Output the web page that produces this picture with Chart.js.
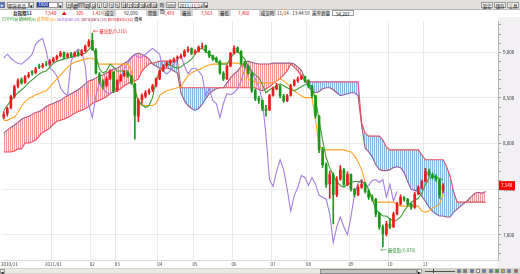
<!DOCTYPE html>
<html>
<head>
<meta charset="utf-8">
<script src="https://cdn.jsdelivr.net/npm/chart.js@4/dist/chart.umd.min.js"></script>
<style>
html, body { margin: 0; padding: 0; width: 520px; height: 274px; overflow: hidden; background: #fff;
  font-family: "Noto Sans CJK TC", "Noto Sans", sans-serif; }
.a { position: absolute; white-space: nowrap; line-height: 7px; font-size: 4.5px; color: #222; }
.box { position: absolute; height: 6px; line-height: 6px; font-size: 4.5px; text-align: center; box-sizing: border-box; }
.btn { background: #f4f3f0; border: 0.5px solid #9a9a9a; }
.lab { background: #d6d6d6; color: #222; }
.red { color: #e00; }
</style>
</head>
<body>
<!-- toolbar row -->
<div style="position:absolute;left:0;top:0;width:520px;height:9px;background:#e2e0dc;border-bottom:0.5px solid #b8b8b8"></div>
<div class="box" style="left:0;top:1.5px;width:5px;background:#5d77ad;color:#fff">▸</div>
<div class="box btn" style="left:7px;top:1.5px;width:22px;background:#fff;text-align:left">期貨商品</div>
<div class="box btn" style="left:29px;top:1.5px;width:5px">▾</div>
<div class="box btn" style="left:36px;top:1.5px;width:22px;background:#fff"></div>
<div class="box" style="left:37px;top:2px;width:12px;height:5px;line-height:5px;background:#2a46a3;color:#fff">TX00</div>
<div class="box btn" style="left:58px;top:1.5px;width:5px">▾</div>
<div id="periods"></div>
<div class="box lab" style="left:158px;top:1.5px;width:8px">時間</div>
<div class="box btn" style="left:166px;top:1.5px;width:10px;background:#fff">999</div>
<div class="box btn" style="left:178px;top:1.5px;width:26px;background:#fff">2011/11/14</div>
<div class="box btn" style="left:204px;top:1.5px;width:4px">▾</div>
<div class="box btn" style="left:481px;top:1.5px;width:12px">設定</div>
<div class="box btn" style="left:494px;top:1.5px;width:12px">儲存</div>
<div class="box btn" style="left:507px;top:1.5px;width:12px">工具</div>

<!-- quote row -->
<div class="a" style="left:13px;top:9.5px;font-weight:bold">台指期11</div>
<div class="a red" style="left:45px;top:9.5px">7,540</div>
<div class="a red" style="left:62px;top:9.5px">▲</div>
<div class="a red" style="left:76px;top:9.5px">105</div>
<div class="a red" style="left:92px;top:9.5px">1.41%</div>
<div class="box lab" style="left:103px;top:10px;width:13px">成交量</div>
<div class="a" style="left:124px;top:9.5px">92,090</div>
<div class="box lab" style="left:146px;top:10px;width:13px">開盤價</div>
<div class="a red" style="left:163px;top:9.5px">7,493</div>
<div class="box lab" style="left:180px;top:10px;width:13px">最高價</div>
<div class="a red" style="left:201px;top:9.5px">7,563</div>
<div class="box lab" style="left:218px;top:10px;width:13px">最低價</div>
<div class="a red" style="left:238px;top:9.5px">7,460</div>
<div class="box lab" style="left:259px;top:10px;width:17px">成交時間</div>
<div class="a" style="left:277px;top:9.5px">11/14 - 13:44:59</div>
<div class="box lab" style="left:312px;top:10px;width:18px">未平倉量</div>
<div class="box btn" style="left:332px;top:10px;width:22px;background:#fff">54,207</div>

<canvas id="c" width="520" height="251" style="position:absolute;left:0;top:17px"></canvas>

<!-- legend row -->
<div class="a" style="left:2px;top:16px;font-size:4px;z-index:2">
  <span style="color:#2f9a2f">日平均量 轉換線(9)</span>
  <span style="color:#ff9a10">基準線(26)</span>
  <span style="color:#9a70e0">lackspan(26)</span>
  <span style="color:#9c3a5a">penspan1(26)</span>
  <span style="color:#e02030">penspan2(52)</span>
  <span style="color:#222">價格</span>
</div>
<div class="a" style="left:1px;top:261px;font-size:4.5px;color:#333">2010/11</div>

<!-- bottom scroll bar -->
<div style="position:absolute;left:0;top:268px;width:520px;height:6px;background:#d6d3cd"></div>
<div class="box btn" style="left:0;top:268.5px;width:5px;height:5px;line-height:5px">◂</div>
<div style="position:absolute;left:5px;top:269px;width:412px;height:4px;background:#ebe9e6"></div>
<div style="position:absolute;left:320px;top:268.5px;width:97px;height:5px;background:#c4c2be;border:0.5px solid #8d8d8d;box-sizing:border-box"></div>
<div class="box btn" style="left:417px;top:268.5px;width:5px;height:5px;line-height:5px">▸</div>
<div style="position:absolute;left:425px;top:271px;width:30px;height:0.5px;background:#555"></div>
<div style="position:absolute;left:433px;top:269px;width:1px;height:4px;background:#444"></div>
<div id="icons"></div>

<script>
// slots: each slot is one step on the category axis (about two sessions)
const slotCount = 140;
const monthNames = ['2011/01', '02', '03', '04', '05', '06', '07', '08', '09', '10', '11'];
const monthSlots = [14, 25, 32, 44, 54, 65, 76, 86, 98, 109, 119];
const yMajorTicks = [7000, 7500, 8000, 8500, 9000];
const yMinorTicks = [6800, 6900, 7000, 7100, 7200, 7300, 7400, 7500, 7600, 7700, 7800, 7900, 8000,
  8100, 8200, 8300, 8400, 8500, 8600, 8700, 8800, 8900, 9000, 9100, 9200, 9300];

const opens = [8290,8330,8390,8520,8630,8700,8670,8735,8790,8780,
  8850,8840,8875,8870,8900,8930,8960,8995,8950,8985,
  8960,9000,8970,9015,9070,9130,9020,8760,8680,8640,
  8710,8780,8590,8690,8745,8780,8740,8650,8300,8480,
  8520,8560,8590,8640,8715,8800,8860,8885,8910,8935,
  8950,8960,9020,9040,8990,9010,9060,9070,9010,8960,
  8930,8900,8770,8710,8850,8990,9050,9010,8880,8850,
  8770,8580,8495,8470,8380,8370,8530,8600,8630,8520,
  8470,8530,8640,8690,8710,8730,8690,8630,8520,8300,
  7930,7770,7560,7660,7440,7610,7710,7550,7660,7500,
  7440,7520,7560,7480,7410,7390,7230,7090,7010,7120,
  7090,7230,7340,7410,7390,7340,7300,7450,7520,7590,
  7690,7660,7630,7600,7493];
const highs = [8350,8400,8530,8640,8710,8720,8745,8780,8800,8835,
  8870,8880,8900,8920,8945,8970,9010,9005,8995,9000,
  9005,9015,9030,9080,9140,9210,9040,8780,8700,8730,
  8810,8790,8700,8760,8795,8790,8750,8660,8490,8545,
  8580,8600,8650,8720,8810,8865,8900,8920,8940,8960,
  8980,9030,9060,9050,9030,9070,9100,9080,9020,8970,
  8950,8910,8790,8860,9000,9070,9060,9020,8900,8860,
  8780,8600,8520,8480,8420,8540,8620,8660,8640,8540,
  8540,8650,8700,8730,8750,8740,8700,8640,8530,8310,
  7960,7790,7700,7680,7640,7760,7730,7690,7670,7510,
  7550,7600,7570,7490,7440,7400,7250,7110,7150,7180,
  7250,7360,7440,7420,7400,7350,7470,7540,7600,7730,
  7720,7680,7660,7610,7563];
const lows = [8270,8300,8380,8500,8610,8650,8660,8720,8750,8765,
  8820,8830,8850,8860,8890,8915,8950,8930,8940,8945,
  8950,8955,8960,9005,9060,9020,8760,8660,8600,8620,
  8700,8560,8570,8680,8730,8725,8650,8050,8240,8440,
  8500,8540,8570,8620,8700,8790,8840,8860,8890,8910,
  8930,8950,9000,8975,8980,9000,9040,8995,8940,8910,
  8890,8760,8690,8700,8840,8980,8995,8860,8830,8760,
  8560,8470,8440,8360,8300,8360,8520,8590,8500,8450,
  8460,8520,8630,8670,8700,8670,8610,8500,8280,7900,
  7740,7520,7400,7120,7420,7600,7530,7540,7480,7420,
  7430,7510,7460,7390,7370,7200,7060,6870,6990,7070,
  7080,7220,7330,7370,7320,7280,7290,7440,7500,7580,
  7640,7610,7590,7400,7460];
const closes = [8320,8385,8514,8622,8687,8665,8730,8752,8773,8817,
  8838,8860,8871,8903,8925,8957,8989,8946,8979,8957,
  8989,8968,9011,9065,9119,9033,8773,8687,8633,8709,
  8795,8579,8687,8741,8773,8741,8665,8309,8471,8525,
  8557,8579,8633,8709,8795,8849,8881,8903,8925,8946,
  8957,9011,9033,8989,9011,9054,9065,9011,8957,8925,
  8903,8773,8709,8849,8989,9043,9011,8881,8849,8773,
  8579,8493,8471,8385,8363,8525,8601,8633,8525,8471,
  8525,8633,8687,8709,8730,8687,8633,8525,8309,7931,
  7769,7553,7661,7445,7607,7715,7553,7661,7499,7445,
  7521,7553,7477,7413,7391,7229,7089,7013,7121,7089,
  7229,7337,7413,7391,7337,7305,7445,7521,7585,7693,
  7661,7628,7607,7435,7540];

const tenkan = [8363,8417,8471,8514,8557,8590,8622,8665,8698,8730,
  8763,8784,8795,8838,8881,8903,8914,8925,8935,8946,
  8957,8968,8979,8989,9033,9065,8957,8817,8773,8795,
  8870,8838,8795,8795,8795,8795,8709,8579,8471,8428,
  8395,8417,8504,8687,8795,8838,8870,8860,8838,8827,
  8838,8870,8892,8925,8979,9033,9043,9011,8979,8957,
  8903,8870,8870,8870,8935,8989,9011,8968,8925,8849,
  8784,8752,8720,8644,8557,8590,8611,8633,8655,8633,
  8611,8590,8579,8601,8622,8644,8644,8611,8493,8255,
  8039,7845,7737,7650,7585,7542,7521,7553,7575,7585,
  7585,7575,7575,7499,7391,7283,7240,7207,7207,7175,
  7153,7164,7197,7261,7315,7359,7380,7402,7456,7553,
  7618,7639,7639,7618,7607];
const kijun = [8255,8255,8277,8287,8341,8406,8460,8493,8514,8536,
  8547,8568,8579,8622,8665,8709,8752,8795,8838,8870,
  8892,8903,8914,8925,8935,8935,8903,8870,8870,8870,
  8870,8870,8870,8870,8870,8870,8795,8633,8439,8417,
  8417,8417,8417,8439,8525,8557,8579,8590,8601,8611,
  8622,8687,8741,8773,8795,8806,8827,8849,8860,8870,
  8870,8870,8881,8881,8881,8881,8881,8870,8870,8709,
  8687,8676,8665,8665,8665,8665,8665,8687,8709,8687,
  8655,8611,8579,8547,8525,8504,8504,8504,8255,7985,
  7931,7931,7931,7931,7931,7931,7931,7920,7909,7866,
  7801,7715,7575,7477,7391,7359,7359,7359,7359,7359,
  7359,7337,7315,7315,7315,7315,7315,7315,7261,7250,
  7261,7294,7315,7337,7445];
const chikou = [8935,8979,8935,8903,8881,8870,8903,8935,8979,9087,
  9130,9151,9011,8827,8795,8741,8611,8557,8525,8903,
  8989,9033,9011,8849,8417,8287,8525,8665,8601,8557,
  8547,8579,8611,8709,8817,8881,8935,8979,8946,8946,
  8979,9011,9043,9011,8979,8795,8763,8795,8870,8925,
  8957,8849,8763,8817,8827,8795,8741,8525,8601,8471,
  8439,8287,8439,8547,8536,8557,8601,8687,8817,8860,
  8795,8709,8622,8471,8093,7607,7531,7693,7823,7715,
  7499,7261,7434,7520,7650,7629,7542,7629,7553,7434,
  7413,7391,7229,6916,7089,7197,7089,7002,7197,7445,
  7564,7607,7531,7542,7596,7607,7575,7607,7413,7553,
  7369,7477];
const spanA = [8115,8147,8180,8201,8233,8266,8287,8298,8320,8341,
  8352,8374,8406,8428,8439,8460,8471,8504,8525,8547,
  8568,8590,8622,8655,8687,8698,8720,8741,8752,8773,
  8795,8817,8827,8849,8881,8903,8946,8979,8989,8979,
  8957,8925,8871,8849,8827,8827,8827,8817,8795,8773,
  8557,8471,8417,8385,8363,8385,8428,8493,8547,8579,
  8601,8611,8611,8665,8720,8763,8795,8849,8892,8903,
  8892,8881,8871,8871,8871,8871,8881,8881,8881,8881,
  8881,8881,8871,8838,8806,8709,8622,8579,8557,8568,
  8601,8611,8611,8590,8557,8525,8536,8547,8557,8557,
  8525,8200,7953,7909,7855,7769,7715,7704,7704,7715,
  7737,7747,7737,7683,7585,7499,7488,7477,7423,7369,
  7305,7261,7229,7207,7207,7197,7197,7251,7283,7315,
  7348,7380,7423,7456,7467,7456,7477];
const spanB = [7909,7909,7909,7920,7942,7942,8007,8007,8017,8039,
  8082,8125,8147,8169,8212,8244,8255,8266,8287,8309,
  8331,8352,8363,8385,8406,8439,8460,8471,8493,8514,
  8547,8568,8579,8601,8633,8655,8676,8687,8709,8795,
  8838,8871,8881,8892,8903,8903,8903,8903,8903,8903,
  8611,8611,8611,8611,8611,8611,8611,8611,8611,8611,
  8611,8611,8611,8611,8611,8611,8611,8611,8611,8611,
  8611,8611,8590,8579,8601,8622,8655,8687,8709,8752,
  8795,8871,8838,8795,8741,8687,8676,8676,8676,8676,
  8676,8676,8676,8676,8676,8676,8676,8676,8676,8676,
  8676,8230,8115,8082,8082,8082,8082,8039,7963,7931,
  7931,7931,7931,7931,7931,7931,7931,7931,7877,7823,
  7823,7823,7823,7823,7823,7747,7640,7467,7359,7359,
  7359,7359,7359,7359,7359,7359,7359];

const periodNames = ['月', '週', '日', '時', '分', '1', '2', '3', '5', '10', '15', '20', '30', '45', '60'];

// toolbar period buttons
const periods = document.getElementById('periods');
periodNames.forEach((p, i) => {
  const b = document.createElement('div');
  b.className = 'box btn';
  b.style.left = (66 + i * 6.1) + 'px';
  b.style.top = '1.5px';
  b.style.width = '5.6px';
  if (i === 2) { b.style.background = '#8a8a8a'; b.style.color = '#fff'; }
  b.textContent = p;
  periods.appendChild(b);
});
const icons = document.getElementById('icons');
['#5a7fc0', '#777', '#5a7fc0', '#fff', '#5a7fc0', '#5a7fc0', '#3a9a3a', '#d0b030', '#5a7fc0', '#c05050'].forEach((c, i) => {
  const d = document.createElement('div');
  d.style.cssText = 'position:absolute;top:269px;width:4px;height:4px;border:0.5px solid #888;box-sizing:border-box';
  d.style.left = (457 + i * 6.3) + 'px';
  d.style.background = c;
  icons.appendChild(d);
});

const labels = Array.from({ length: slotCount }, (_, i) => {
  const k = monthSlots.indexOf(i);
  return k >= 0 ? monthNames[k] : '';
});

const upColor = '#ee1c1c';
const downColor = '#1b981b';
const candleColors = closes.map((c, i) => (c >= opens[i] ? upColor : downColor));

function stripes(line, bg) {
  const c = document.createElement('canvas');
  c.width = 2; c.height = 1;
  const g = c.getContext('2d');
  g.fillStyle = bg; g.fillRect(0, 0, 2, 1);
  g.fillStyle = line; g.fillRect(0, 0, 1, 1);
  return g.createPattern(c, 'repeat');
}
const redHatch = stripes('rgba(242,130,130,0.85)', 'rgba(255,236,236,0.7)');
const blueHatch = stripes('rgba(118,176,228,0.9)', 'rgba(222,236,250,0.8)');

const backdrop = {
  id: 'backdrop',
  beforeDraw(chart) {
    const { ctx, chartArea: a, width, height } = chart;
    ctx.save();
    ctx.fillStyle = '#fff';
    ctx.fillRect(0, 0, width, height);
    ctx.fillStyle = '#f2f0f3';
    ctx.fillRect(a.right, 0, width - a.right, height);
    ctx.restore();
  }
};

const notes = {
  id: 'notes',
  afterDatasetsDraw(chart) {
    const { ctx, chartArea: a, scales: { x, y } } = chart;
    const fmt = v => v.toLocaleString('en-US');
    ctx.save();
    ctx.font = '4.5px "Noto Sans CJK TC"';
    ctx.textBaseline = 'middle';
    ctx.lineWidth = 0.6;

    // highest
    const hi = highs.indexOf(Math.max(...highs));
    let px = x.getPixelForValue(hi), py = y.getPixelForValue(highs[hi]) - 2;
    ctx.strokeStyle = ctx.fillStyle = '#e33';
    ctx.beginPath(); ctx.moveTo(px + 1, py); ctx.lineTo(px + 6, py);
    ctx.moveTo(px + 1, py); ctx.lineTo(px + 2.5, py - 1); ctx.moveTo(px + 1, py); ctx.lineTo(px + 2.5, py + 1);
    ctx.stroke();
    ctx.fillText('最高點(' + fmt(highs[hi]) + ')', px + 7, py);

    // lowest
    const lo = lows.indexOf(Math.min(...lows));
    px = x.getPixelForValue(lo) - 2; py = y.getPixelForValue(lows[lo]) + 3;
    ctx.strokeStyle = ctx.fillStyle = '#3a9a3a';
    ctx.beginPath(); ctx.moveTo(px, py); ctx.lineTo(px + 6, py);
    ctx.moveTo(px, py); ctx.lineTo(px + 1.5, py - 1); ctx.moveTo(px, py); ctx.lineTo(px + 1.5, py + 1);
    ctx.stroke();
    ctx.fillText('最低點(' + fmt(lows[lo]) + ')', px + 7, py);

    // last price tag on the axis
    const last = closes[closes.length - 1];
    const ty = y.getPixelForValue(last);
    ctx.fillStyle = '#f00';
    ctx.fillRect(a.right + 1, ty - 4.5, 16, 9);
    ctx.fillStyle = '#fff';
    ctx.fillText(fmt(last), a.right + 3, ty);
    ctx.restore();
  }
};

const lineStyle = { pointRadius: 0, borderWidth: 1.1, tension: 0, fill: false };

new Chart(document.getElementById('c'), {
  type: 'bar',
  data: {
    labels,
    datasets: [
      { type: 'line', label: 'penspan1(26)', data: spanA, ...lineStyle, borderColor: '#9c5a88',
        fill: { target: '+1', above: redHatch, below: blueHatch }, order: 9 },
      { type: 'line', label: 'penspan2(52)', data: spanB, ...lineStyle, borderColor: '#e2505a', order: 8 },
      { type: 'line', label: 'lackspan(26)', data: chikou, ...lineStyle, borderColor: '#a47ee6', order: 5 },
      { type: 'line', label: '基準線(26)', data: kijun, ...lineStyle, borderColor: '#ffa424', order: 4 },
      { type: 'line', label: '轉換線(9)', data: tenkan, ...lineStyle, borderColor: '#3f9c35', order: 3 },
      { label: 'wick', data: lows.map((l, i) => [l, highs[i]]), backgroundColor: candleColors,
        barThickness: 1, grouped: false, order: 2 },
      { label: 'body', data: opens.map((o, i) => [o, closes[i]]), backgroundColor: candleColors,
        barThickness: 2, grouped: false, order: 1 }
    ]
  },
  options: {
    responsive: false,
    animation: false,
    devicePixelRatio: 1,
    layout: { padding: { left: 2, top: 3, right: 0, bottom: 0 } },
    plugins: { legend: { display: false }, tooltip: { enabled: false } },
    scales: {
      x: {
        grid: {
          offset: true,
          drawTicks: false,
          color: c => (monthSlots.includes(c.index) ? '#e9e9e9' : 'rgba(0,0,0,0)')
        },
        border: { color: '#dcdcdc' },
        ticks: {
          autoSkip: false, maxRotation: 0, padding: 1, color: '#444',
          font: { size: 4.5, family: 'Noto Sans CJK TC' },
          callback: (v, i) => labels[i]
        }
      },
      y: {
        position: 'right',
        min: 6719,
        max: 9335,
        afterBuildTicks: s => { s.ticks = yMinorTicks.map(v => ({ value: v })); },
        afterFit: s => { s.width = 22; },
        grid: {
          color: c => (c.tick && yMajorTicks.includes(c.tick.value) ? '#ececec' : 'rgba(0,0,0,0)'),
          tickColor: '#a0a0a0',
          tickLength: 3
        },
        border: { color: '#b4b4b4' },
        ticks: {
          padding: 2, color: '#333',
          font: { size: 4.5, family: 'Noto Sans CJK TC' },
          callback: v => (yMajorTicks.includes(v) ? v.toLocaleString('en-US') : '')
        }
      }
    }
  },
  plugins: [backdrop, notes]
});
</script>
</body>
</html>
